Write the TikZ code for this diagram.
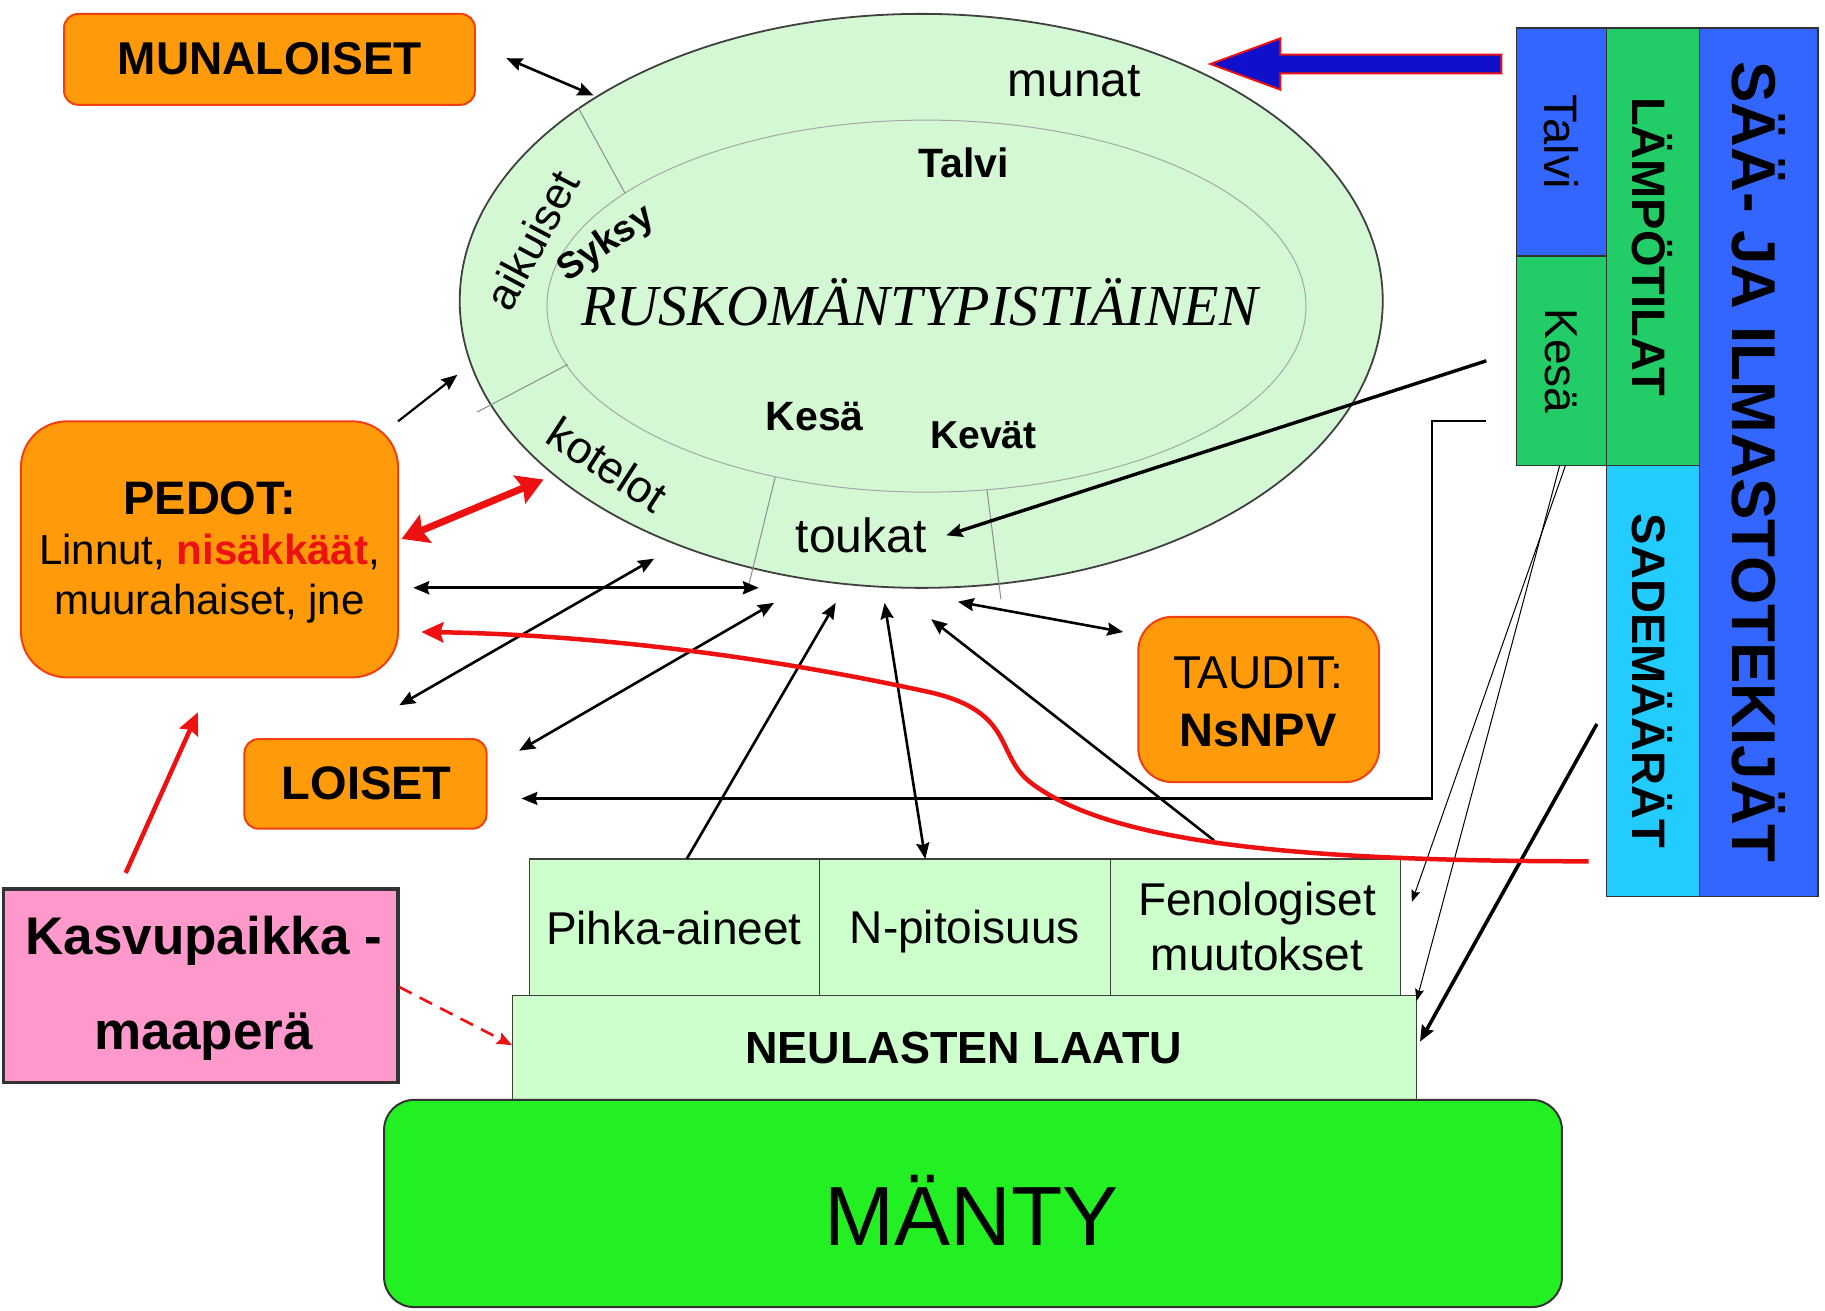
\documentclass[tikz,border=0pt]{standalone}
\usepackage{fontspec}
\setmainfont{Liberation Sans}
\newfontfamily\serifit{Liberation Serif}
\usetikzlibrary{arrows.meta,fit,shapes.geometric}
\definecolor{org}{HTML}{FF9A0A}
\definecolor{orgedge}{HTML}{F04010}
\definecolor{pale}{HTML}{D4F8D4}
\definecolor{palebox}{HTML}{CCFFCC}
\definecolor{pine}{HTML}{22F022}
\definecolor{sky}{HTML}{3366FF}
\definecolor{grn}{HTML}{22CC66}
\definecolor{cyanb}{HTML}{22CCFF}
\definecolor{pinkb}{HTML}{FF99CC}
\definecolor{redl}{HTML}{EE1111}
\definecolor{blueA}{HTML}{1010CC}
\newcommand\fsz[1]{\fontsize{#1}{#1}\selectfont}
\tikzset{
  orangebox/.style={draw=orgedge, line width=2pt, fill=org, rounded corners=14pt, inner sep=0pt},
  palecell/.style={draw=black!75, line width=1.2pt, fill=palebox, inner sep=0pt},
  sidebox/.style={draw=black!80, line width=1.2pt, inner sep=0pt},
  divider/.style={draw=black!45, line width=1pt},
  label/.style={inner sep=0pt, align=center},
  arr/.style={-{Stealth[length=16pt,width=13pt,inset=2pt]}, line width=2.6pt},
  darr/.style={{Stealth[length=16pt,width=13pt,inset=2pt]}-{Stealth[length=16pt,width=13pt,inset=2pt]}, line width=2.6pt},
  thinarr/.style={-{Stealth[length=12pt,width=9pt,inset=2pt]}, line width=1pt},
  redarr/.style={draw=redl, -{Stealth[length=22pt,width=20pt,inset=3pt]}, line width=4.5pt},
}
\begin{document}
\begin{tikzpicture}[x=1.1639pt,y=-1.1639pt]
\useasboundingbox (0,0) rectangle (1568,1126);
\fill[white] (0,0) rectangle (1568,1126);

% ---------- central ellipse ----------
\node[ellipse, draw=black!75, line width=1.8pt, fill=pale, minimum width=923pt, minimum height=574pt, inner sep=0pt] (pest) at (791.5,258.5) {};
\node[ellipse, draw=black!35, line width=1pt, fill=pale, minimum width=759pt, minimum height=372pt, inner sep=0pt] (core) at (796,263) {};
\draw[divider] (497,93) -- (537,166);
\draw[divider] (410,354) -- (488,313);
\draw[divider] (666,410) -- (642,508);
\draw[divider] (848,421) -- (860,515);

\node[label, font=\fsz{48}] (munat) at (923,70) {munat};
\node[label, font=\fsz{41}\bfseries] (talviC) at (828,140) {Talvi};
\node[label, font=\fsz{37}\bfseries, rotate=34] (syksy) at (521,210) {Syksy};
\node[label, font=\fsz{44}, rotate=62] (aikuiset) at (457,206) {aikuiset};
\node[label, font=\fsz{58}\serifit\itshape] (rusko) at (790,260) {RUSKOMÄNTYPISTIÄINEN};
\node[label, font=\fsz{41}\bfseries] (kesaC) at (700,358) {Kesä};
\node[label, font=\fsz{39}\bfseries] (kevat) at (845,374) {Kevät};
\node[label, font=\fsz{45}, rotate=-33] (kotelot) at (522,399) {kotelot};
\node[label, font=\fsz{48}] (toukat) at (740,460) {toukat};

% ---------- orange boxes ----------
\node[orangebox, fit={(55,12) (408,90)}] (muna) {};
\node[label, font=\fsz{46}\bfseries] (munaT) at (232,50) {MUNALOISET};
\node[orangebox, rounded corners=46pt, fit={(18,362) (342,582)}] (pedot) {};
\node[label, font=\fsz{42}, execute at begin node={\setlength{\baselineskip}{50pt}}] (pedotT) at (180,475)
  {{\fsz{47}\bfseries PEDOT:}\\Linnut, {\color{redl}\bfseries nisäkkäät},\\muurahaiset, jne};
\node[orangebox, fit={(210,635) (418,712)}] (loiset) {};
\node[label, font=\fsz{47}\bfseries] (loisetT) at (315,673) {LOISET};
\node[orangebox, rounded corners=34pt, fit={(978,530) (1185,672)}] (taudit) {};
\node[label, font=\fsz{46}, execute at begin node={\setlength{\baselineskip}{58pt}}] (tauditT) at (1081,603)
  {TAUDIT:\\{\fsz{47}\bfseries NsNPV}};

% ---------- site box ----------
\node[draw=black!80, line width=3.5pt, fill=pinkb, inner sep=0pt, fit={(3,764) (342,930)}] (kasvu) {};
\node[label, font=\fsz{53}\bfseries, execute at begin node={\setlength{\baselineskip}{95pt}}] (kasvuT) at (175,849)
  {Kasvupaikka -\\maaperä};

% ---------- needle quality ----------
\node[palecell, fit={(455,738) (704,855)}] (pihka) {};
\node[label, font=\fsz{46}] (pihkaT) at (579,797) {Pihka-aineet};
\node[palecell, fit={(704,738) (954,855)}] (npit) {};
\node[label, font=\fsz{46}] (npitT) at (829,800) {N-pitoisuus};
\node[palecell, fit={(954,738) (1203,855)}] (feno) {};
\node[label, font=\fsz{46}, execute at begin node={\setlength{\baselineskip}{55pt}}] (fenoT) at (1080,796) {Fenologiset\\muutokset};
\node[palecell, fit={(440,855) (1217,945)}] (laatu) {};
\node[label, font=\fsz{45}\bfseries] (laatuT) at (828,900) {NEULASTEN LAATU};
\node[draw=black!80, line width=2pt, fill=pine, rounded corners=30pt, inner sep=0pt, fit={(330,945) (1342,1123)}] (manty) {};
\node[label, font=\fsz{84}] (mantyT) at (835,1040) {MÄNTY};

% ---------- weather blocks ----------
\node[sidebox, fill=sky, fit={(1303,24) (1380,220)}] (talviB) {};
\node[sidebox, fill=grn, fit={(1303,220) (1380,400)}] (kesaB) {};
\node[sidebox, fill=grn, fit={(1380,24) (1460,400)}] (lampo) {};
\node[sidebox, fill=cyanb, fit={(1380,400) (1460,770)}] (sade) {};
\node[sidebox, fill=sky, fit={(1460,24) (1562,770)}] (saa) {};
\node[label, font=\fsz{47}, rotate=-90] (talviT) at (talviB.center) {Talvi};
\node[label, font=\fsz{46}, rotate=-90] (kesaT) at (kesaB.center) {Kesä};
\node[label, font=\fsz{47}\bfseries, rotate=-90] (lampoT) at (lampo.center) {LÄMPÖTILAT};
\node[label, font=\fsz{47}\bfseries, rotate=-90] (sadeT) at (sade.center) {SADEMÄÄRÄT};
\node[label, font=\fsz{62}\bfseries, rotate=-90] (saaT) at (saa.center) {SÄÄ- JA ILMASTOTEKIJÄT};

% ---------- blue fat arrow ----------
\draw[draw=redl, line width=2pt, fill=blueA, line join=miter]
  (1290,47) -- (1100,47) -- (1100,33) -- (1040,55) -- (1100,77) -- (1100,63) -- (1290,63) -- cycle;

% ---------- connector end points ----------
\coordinate (mA) at (435,50);   \coordinate (mB) at (510,82);
\coordinate (pA) at (342,362);  \coordinate (pB) at (393,322);
\coordinate (rA) at (345,463);  \coordinate (rB) at (467,412);
\coordinate (hA) at (355,505);  \coordinate (hB) at (652,505);
\coordinate (eA) at (343,606);  \coordinate (eB) at (562,480);
\coordinate (fA) at (446,645);  \coordinate (fB) at (665,518);
\coordinate (gA) at (590,738);  \coordinate (gB) at (718,518);
\coordinate (nA) at (795,738);  \coordinate (nB) at (760,518);
\coordinate (iA) at (1043,722); \coordinate (iB) at (800,532);
\coordinate (jA) at (823,517);  \coordinate (jB) at (965,543);
\coordinate (kA) at (1277,310); \coordinate (kB) at (813,460);
\coordinate (lA) at (1277,362); \coordinate (lB) at (448,686);
\coordinate (sA) at (1345,400); \coordinate (sB) at (1213,775);
\coordinate (tA) at (1340,400); \coordinate (tB) at (1217,860);
\coordinate (uA) at (1372,622); \coordinate (uB) at (1220,895);
\coordinate (cA) at (1365,740); \coordinate (cB) at (362,543);
\coordinate (kpA) at (108,750); \coordinate (kpB) at (170,612);
\coordinate (dA) at (343,848);  \coordinate (dB) at (440,898);

% ---------- black connectors ----------
\draw[darr] (mA) -- (mB);
\draw[arr, line width=2.2pt] (pA) -- (pB);
\draw[darr, line width=3pt] (hA) -- (hB);
\draw[darr] (eA) -- (eB);
\draw[darr] (fA) -- (fB);
\draw[arr] (gA) -- (gB);
\draw[darr] (nA) -- (nB);
\draw[arr] (iA) -- (iB);
\draw[darr] (jA) -- (jB);
\draw[arr, line width=3.4pt] (kA) -- (kB);
\draw[arr, line width=2.2pt] (lA) -- (1230,362) -- (1230,686) -- (lB);
\draw[thinarr] (sA) -- (sB);
\draw[thinarr] (tA) -- (tB);
\draw[arr, line width=3.6pt] (uA) -- (uB);

% ---------- red connectors ----------
\draw[redarr] (cA) .. controls (1100,740) and (950,722) .. (885,672)
  .. controls (855,648) and (872,612) .. (800,595)
  .. controls (650,562) and (500,545) .. (cB);
\draw[redarr] (kpA) -- (kpB);
\draw[draw=redl, line width=7pt, {Stealth[length=26pt,width=30pt,inset=4pt]}-{Stealth[length=26pt,width=30pt,inset=4pt]}] (rA) -- (rB);
\draw[draw=redl, line width=2.6pt, dashed, dash pattern=on 14pt off 9pt, -{Stealth[length=15pt,width=12pt,inset=2pt]}] (dA) -- (dB);
\end{tikzpicture}
\end{document}
